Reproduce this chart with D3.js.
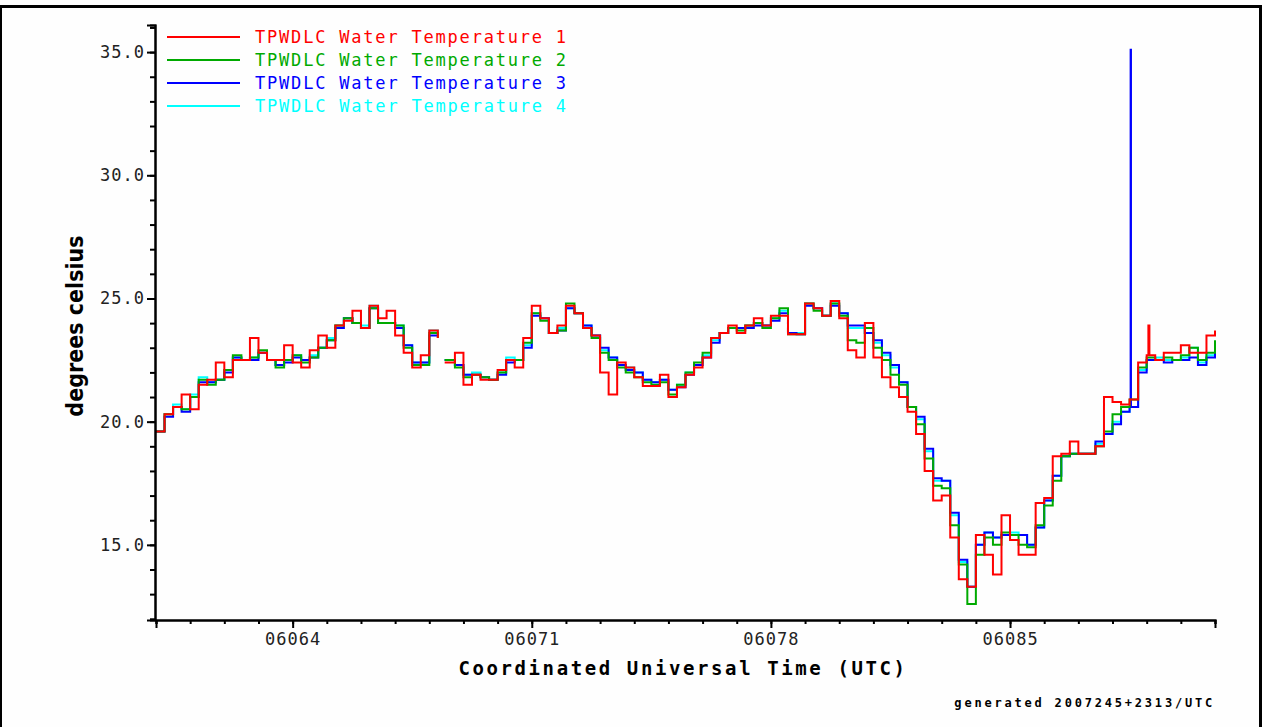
<!DOCTYPE html>
<html><head><meta charset="utf-8">
<script src="https://cdn.jsdelivr.net/npm/d3@7"></script>
<style>body{margin:0;background:#fff}svg{display:block}</style>
</head><body><svg id="c" width="1262" height="727"></svg>
<script>
// ---- data ----
const startDay = 60, stepDay = 0.25;          // day-of-year 2006, 6-hour samples
const seriesNames = ["TPWDLC Water Temperature 1","TPWDLC Water Temperature 2","TPWDLC Water Temperature 3","TPWDLC Water Temperature 4"];
const seriesColors = ["#ff0000","#00aa00","#0000ff","#00ffff"];
const temp1 = [
19.6,20.3,20.6,21.1, 20.5,21.5,21.7,22.4, 21.8,22.5,22.5,23.4, 22.8,22.5,22.5,23.1,
22.4,22.2,22.9,23.5, 23.0,23.9,24.1,24.5, 23.8,24.7,24.2,24.5, 23.5,22.8,22.2,22.7,
23.7,23.4,22.4,22.8, 21.5,21.9,21.7,21.7, 22.1,22.5,22.2,23.4, 24.7,24.2,23.6,23.9,
24.7,24.4,23.8,23.5, 22.0,21.1,22.4,22.2, 21.8,21.45,21.45,21.9, 21.0,21.4,21.9,22.2,
22.6,23.4,23.6,23.9, 23.6,23.9,24.2,23.9, 24.3,24.3,23.55,23.55, 24.8,24.6,24.3,24.9,
24.2,22.9,22.6,24.0, 22.6,21.8,21.4,21.0, 20.4,19.5,18.0,16.8, 17.0,15.3,13.6,13.3,
15.4,14.6,13.8,16.2, 15.2,14.6,14.6,16.7, 16.9,18.6,18.7,19.2, 18.7,18.7,19.0,21.0,
20.8,20.7,20.9,22.4, 22.7,22.5,22.8,22.8, 23.1,22.8,22.8,23.5, 23.7];
const temp2 = [
19.6,20.3,20.6,20.5, 21.0,21.7,21.5,21.7, 22.1,22.7,22.5,22.6, 22.9,22.5,22.2,22.5,
22.7,22.4,22.6,23.0, 23.3,23.9,24.2,24.0, 23.8,24.6,24.0,24.0, 23.9,23.0,22.3,22.3,
23.6,23.4,22.5,22.2, 21.8,21.9,21.8,21.7, 22.0,22.5,22.5,23.2, 24.4,24.1,23.6,23.7,
24.8,24.4,23.8,23.4, 22.8,22.5,22.2,22.0, 21.8,21.6,21.5,21.6, 21.1,21.5,22.0,22.4,
22.8,23.4,23.6,23.8, 23.7,23.9,24.0,23.8, 24.2,24.6,23.55,23.55, 24.8,24.5,24.3,24.8,
24.3,23.3,23.2,23.8, 23.0,22.5,21.9,21.5, 20.6,19.9,18.5,17.4, 17.3,15.8,14.2,12.6,
14.6,15.3,15.0,15.5, 15.4,15.0,14.9,15.8, 16.6,17.6,18.6,18.7, 18.7,18.7,19.0,19.6,
20.3,20.6,20.9,22.2, 22.6,22.5,22.6,22.5, 22.7,23.0,22.5,22.8, 23.3];
const temp3 = [
19.6,20.2,20.6,20.4, 21.0,21.6,21.6,21.7, 22.0,22.6,22.5,22.5, 22.8,22.5,22.3,22.4,
22.6,22.5,22.6,23.0, 23.3,23.8,24.2,24.0, 23.8,24.6,24.0,24.0, 23.8,23.1,22.4,22.4,
23.5,23.5,22.5,22.3, 21.9,21.9,21.8,21.7, 21.9,22.4,22.5,23.0, 24.3,24.2,23.6,23.7,
24.6,24.4,23.9,23.5, 23.0,22.6,22.3,22.1, 22.0,21.7,21.6,21.7, 21.3,21.4,21.9,22.3,
22.6,23.2,23.6,23.8, 23.8,23.8,23.9,23.9, 24.1,24.4,23.6,23.55, 24.7,24.6,24.3,24.7,
24.4,23.9,23.9,23.6, 23.3,22.8,22.3,21.6, 20.6,20.2,18.9,17.7, 17.6,16.3,14.4,13.3,
15.0,15.5,15.3,15.4, 15.4,15.4,15.0,15.7, 16.8,17.8,18.6,18.7, 18.7,18.7,19.2,19.5,
19.9,20.4,20.6,22.0, 22.5,22.5,22.4,22.5, 22.5,22.6,22.3,22.6, 23.2];
const temp4 = [
19.6,20.3,20.7,20.5, 21.1,21.8,21.6,21.7, 22.1,22.6,22.5,22.6, 22.8,22.5,22.3,22.5,
22.7,22.5,22.7,23.0, 23.4,23.9,24.2,24.0, 23.9,24.7,24.0,24.0, 23.9,23.1,22.4,22.4,
23.7,23.5,22.5,22.3, 21.9,22.0,21.8,21.7, 22.0,22.6,22.5,23.1, 24.4,24.2,23.6,23.8,
24.6,24.4,23.9,23.5, 22.9,22.6,22.3,22.2, 22.0,21.7,21.6,21.7, 21.3,21.5,22.0,22.3,
22.7,23.3,23.6,23.8, 23.8,23.9,24.0,23.9, 24.2,24.5,23.6,23.6, 24.8,24.6,24.3,24.8,
24.4,23.8,23.8,23.6, 23.2,22.7,22.2,21.6, 20.6,20.1,18.8,17.6, 17.6,16.2,14.3,13.3,
15.0,15.5,15.3,15.4, 15.5,15.4,15.0,15.7, 16.8,17.8,18.6,18.7, 18.7,18.7,19.1,19.5,
20.0,20.4,20.6,22.1, 22.5,22.6,22.5,22.5, 22.6,23.0,22.4,22.7, 23.2];
// extra samples off the 6-hour grid: [day, value] (null = data gap)
const extra1 = [[68.3,null],[68.45,22.4],[89.05,23.9],[89.08,22.7]];
const extra2 = [[68.3,null],[68.45,22.5]];
const extra3 = [[68.3,null],[68.45,22.5],[88.53,35.1],[88.54,20.6]];
const extra4 = [[68.3,null],[68.45,22.5]];
const xMajorTicks = [64,71,78,85];
const yMajorTicks = [15,20,25,30,35];
const xTitle = "Coordinated Universal Time (UTC)";
const yTitle = "degrees celsius";
const footer = "generated 2007245+2313/UTC";

// ---- drawing ----
const svg = d3.select("#c");
svg.append("rect").attr("width",1262).attr("height",727).attr("fill","#fefefe");
svg.append("rect").attr("x",0).attr("y",5).attr("width",1262).attr("height",3).attr("fill","#000");
svg.append("rect").attr("x",0).attr("y",5).attr("width",2).attr("height",722).attr("fill","#000");
svg.append("rect").attr("x",1259).attr("y",5).attr("width",3).attr("height",722).attr("fill","#000");

const x = d3.scaleLinear().domain([60,91]).range([156,1215]);
const y = d3.scaleLinear().domain([11.95,36.1]).range([620,25]);

function build(vals, extras){
  const pts = vals.map((v,i)=>[startDay+i*stepDay, v]);
  return pts.concat(extras).sort((a,b)=>a[0]-b[0]);
}
const all = [build(temp1,extra1),build(temp2,extra2),build(temp3,extra3),build(temp4,extra4)];
const line = d3.line().defined(d=>d[1]!=null).x(d=>x(d[0])).y(d=>y(d[1])).curve(d3.curveStepAfter);
const g = svg.append("g");
[3,2,1,0].forEach(i=>{
  g.append("path").attr("d",line(all[i])).attr("fill","none")
   .attr("stroke",seriesColors[i]).attr("stroke-width",2).attr("stroke-linejoin","miter");
});

const mono = "'DejaVu Sans Mono','Liberation Mono',monospace";
const yMinor = svg.append("g").attr("transform","translate(155,0)")
  .call(d3.axisLeft(y).tickValues(d3.range(12,37)).tickSize(5).tickFormat(""));
const yMajor = svg.append("g").attr("transform","translate(155,0)")
  .call(d3.axisLeft(y).tickValues(yMajorTicks).tickSize(8).tickPadding(2).tickFormat(d3.format(".1f")));
const xMinor = svg.append("g").attr("transform","translate(0,620)")
  .call(d3.axisBottom(x).tickValues(d3.range(60,92)).tickSize(4).tickFormat(""));
const xMajor = svg.append("g").attr("transform","translate(0,620)")
  .call(d3.axisBottom(x).tickValues(xMajorTicks).tickSize(8).tickPadding(5).tickFormat(d=>"06"+d3.format("03d")(d)));
[yMinor,yMajor,xMinor,xMajor].forEach(a=>{
  a.select(".domain").attr("stroke","#000").attr("stroke-width",2);
  a.selectAll(".tick line").attr("stroke","#000").attr("stroke-width",2);
  a.selectAll("text").attr("fill","#222").style("font-family",mono).style("font-size","17px").style("letter-spacing","1px");
});

svg.append("text").attr("x",683).attr("y",675).attr("text-anchor","middle")
  .style("font-family",mono).style("font-weight","bold").style("font-size","19px").style("letter-spacing","2.6px")
  .text(xTitle);
svg.append("text").attr("transform","translate(83,326) rotate(-90)").attr("text-anchor","middle")
  .style("font-family","'Liberation Sans Narrow','DejaVu Sans Condensed',sans-serif").style("font-weight","bold").style("font-size","23px")
  .text(yTitle);
svg.append("text").attr("x",1215).attr("y",707).attr("text-anchor","end")
  .style("font-family",mono).style("font-weight","bold").style("font-size","12px").style("letter-spacing","2.8px")
  .text(footer);

const leg = svg.append("g");
seriesNames.forEach((n,i)=>{
  const yy = 37 + i*23;
  leg.append("line").attr("x1",167).attr("x2",240).attr("y1",yy).attr("y2",yy)
    .attr("stroke",seriesColors[i]).attr("stroke-width",2);
  leg.append("text").attr("x",255).attr("y",yy+6).attr("fill",seriesColors[i])
    .style("font-family",mono).style("font-size","17px").style("letter-spacing","1.8px").text(n);
});
</script></body></html>
